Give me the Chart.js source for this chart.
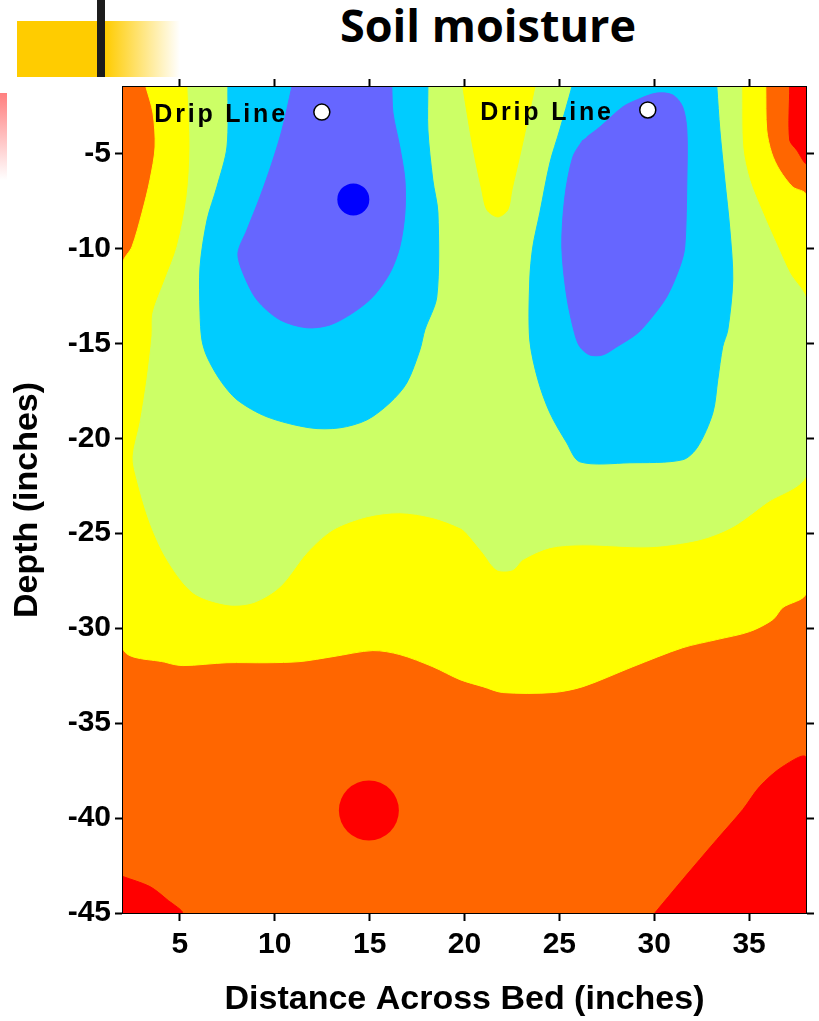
<!DOCTYPE html>
<html>
<head>
<meta charset="utf-8">
<title>Soil moisture</title>
<script src="https://cdn.jsdelivr.net/npm/chart.js@4.4.0/dist/chart.umd.min.js"></script>
<style>
  body { margin: 0; background: #fff; }
  #wrap { position: relative; width: 819px; height: 1021px; overflow: hidden; }
  #chartBox { position: absolute; left: 0; top: 0; width: 819px; height: 1021px; }
  .deco { position: absolute; }
  #title {
    position: absolute; left: 288px; top: 2px; width: 400px;
    text-align: center; font: 700 45px "Open Sans", sans-serif; line-height: 1;
  }
</style>
</head>
<body>
<div id="wrap">
  <div class="deco" style="left:17px;top:21px;width:163px;height:56px;background:linear-gradient(to right,#FFCC00 0,#FFCC00 88px,#ffffff 163px)"></div>
  <div class="deco" style="left:97px;top:0;width:8px;height:77px;background:#1c1c1c"></div>
  <div class="deco" style="left:0;top:93px;width:7px;height:87px;background:linear-gradient(to bottom,#FF7F7F,#ffffff)"></div>
  <div id="title">Soil moisture</div>
  <div id="chartBox"><canvas id="soilChart"></canvas></div>
</div>
<script>
// axis ranges (inches)
var xRange = [2, 38];
var yRange = [-45, -1.5];
var tickStep = 5;

// contour bands, outline points [distance, depth]
var orangeBase = [[2, -1.5], [38, -1.5], [38, -45], [2, -45]];

var yellowZone = [[3.21, -1.5], [3.58, -2.87], [3.69, -4.66], [3.42, -6.39], [3.0, -8.13], [2.47, -9.92],
  [2, -10.76], [2, -31.03], [4.32, -31.82], [5.16, -31.97], [7.48, -31.82], [9.59, -31.82], [11.33, -31.76],
  [13.06, -31.5], [15.17, -31.18], [16.59, -31.39], [18.33, -32.03], [19.76, -32.71], [20.97, -33.08],
  [22.02, -33.39], [24.66, -33.39], [26.24, -33.08], [28.87, -32.03], [31.5, -31.03], [33.3, -30.6],
  [35.03, -30.18], [36.25, -29.55], [36.77, -28.92], [38, -28.13], [38, -7.18], [37.3, -6.76],
  [36.61, -5.87], [36.19, -4.97], [35.93, -3.76], [35.88, -1.5]];

var greenZone = [[5.42, -1.5], [5.53, -4.66], [5.37, -7.29], [4.85, -9.92], [4.21, -11.66], [3.58, -13.39],
  [3.53, -14.6], [3.26, -16.92], [2.9, -19.18], [2.53, -20.97], [2.74, -22.18], [3.42, -24.45],
  [4.32, -26.39], [5.69, -28.13], [7.48, -28.76], [8.85, -28.66], [10.27, -27.82], [11.69, -26.03],
  [13.06, -24.82], [14.86, -24.13], [16.59, -23.92], [18.33, -24.18], [19.76, -24.71], [20.12, -25.0],
  [20.97, -26.03], [21.7, -26.92], [22.55, -26.92], [23.07, -26.39], [24.5, -25.76], [26.24, -25.61],
  [29.77, -25.71], [32.4, -25.34], [34.14, -24.66], [35.93, -23.39], [38, -21.92], [38, -12.71],
  [37.14, -11.29], [36.51, -9.92], [35.72, -8.13], [35.03, -6.39], [34.67, -4.66], [34.61, -1.5]];

var yellowTongue = [[19.91, -1.5], [20.44, -4.66], [20.91, -6.92], [21.18, -7.97], [21.76, -8.34],
  [22.28, -7.97], [22.5, -6.92], [23.02, -4.66], [23.71, -1.5]];

var cyanLeft = [[7.53, -1.5], [7.48, -4.66], [6.95, -6.76], [6.43, -8.5], [6.06, -10.97], [6.06, -13.39],
  [6.16, -14.82], [6.43, -15.71], [7.11, -16.92], [8.01, -17.97], [9.59, -18.87], [11.85, -19.45],
  [13.43, -19.45], [14.86, -19.03], [16.07, -18.13], [16.96, -17.08], [17.65, -15.34], [17.91, -14.29],
  [18.54, -12.55], [18.6, -8.13], [18.33, -6.39], [18.07, -3.76], [18.07, -1.5]];

var cyanRight = [[25.66, -1.5], [25.02, -3.76], [24.5, -5.5], [23.97, -8.13], [23.6, -9.92], [23.44, -11.66],
  [23.44, -14.82], [23.87, -16.92], [24.5, -18.66], [25.39, -20.24], [26.08, -21.24], [28.71, -21.29],
  [31.5, -21.13], [32.29, -20.45], [33.09, -18.66], [33.35, -16.92], [33.61, -15.18], [33.88, -14.29],
  [34.14, -11.66], [33.99, -9.03], [33.72, -6.39], [33.46, -3.76], [33.3, -1.5]];

var purpleLeft = [[10.9, -1.5], [10.38, -3.76], [9.85, -5.5], [9.22, -7.29], [8.53, -9.03], [8.06, -10.24],
  [8.32, -11.29], [9.06, -12.71], [10.27, -13.76], [11.69, -14.18], [12.91, -14.03], [14.12, -13.39],
  [15.17, -12.55], [16.07, -11.29], [16.59, -9.92], [16.86, -8.13], [16.86, -6.39], [16.59, -4.66],
  [16.23, -2.87], [16.17, -1.5]];

var purpleRight = [[26.45, -4.13], [27.13, -3.61], [28.34, -2.55], [29.08, -2.18], [30.13, -1.82],
  [30.98, -1.92], [31.5, -2.55], [31.72, -3.76], [31.72, -6.39], [31.61, -9.92], [31.35, -10.97],
  [30.66, -12.55], [29.77, -13.76], [29.08, -14.5], [28.03, -15.18], [27.29, -15.61], [26.6, -15.61],
  [26.08, -15.18], [25.81, -14.5], [25.39, -12.55], [25.13, -9.92], [25.29, -7.29], [25.71, -5.18],
  [26.24, -4.29]];

var redTopRight = [[37.14, -1.5], [37.14, -4.29], [37.51, -4.82], [38, -5.5], [38, -1.5]];
var redBottomLeft = [[2, -43.08], [3.42, -43.61], [4.32, -44.29], [5.11, -45], [2, -45]];
var redBottomRight = [[30.03, -45], [31.5, -43.24], [33.3, -41.13], [34.67, -39.55], [35.56, -38.34],
  [36.77, -37.29], [38, -36.82], [38, -45]];

// single spots and drip line emitters
var wetSpot = [14.14, -7.42];
var drySpot = [14.96, -39.6];
var dripLines = [[12.48, -2.82], [29.66, -2.71]];
var dripLabel = "Drip Line";

var toPoints = function (list) {
  return list.map(function (p) {
    return { x: p[0], y: p[1] };
  });
};

// bottom layer first
var layers = [
  { data: orangeBase, color: "#FF6600" },
  { data: yellowZone, color: "#FFFF00" },
  { data: greenZone, color: "#CCFF66" },
  { data: yellowTongue, color: "#FFFF00" },
  { data: cyanLeft, color: "#00CCFF" },
  { data: cyanRight, color: "#00CCFF" },
  { data: purpleLeft, color: "#6666FF" },
  { data: purpleRight, color: "#6666FF" },
  { data: redTopRight, color: "#FF0000" },
  { data: redBottomLeft, color: "#FF0000" },
  { data: redBottomRight, color: "#FF0000" },
];

var datasets = layers.map(function (l) {
  return {
    data: toPoints(l.data),
    showLine: true,
    fill: "shape",
    backgroundColor: l.color,
    borderColor: l.color,
    borderWidth: 1,
    pointRadius: 0,
    tension: 0.3,
  };
});

datasets.push({
  data: toPoints([wetSpot]),
  pointRadius: 16,
  backgroundColor: "#0000FF",
  borderColor: "#0000FF",
  borderWidth: 0,
});
datasets.push({
  data: toPoints([drySpot]),
  pointRadius: 30,
  backgroundColor: "#FF0000",
  borderColor: "#FF0000",
  borderWidth: 0,
});
datasets.push({
  data: toPoints(dripLines),
  pointRadius: 8,
  backgroundColor: "#FFFFFF",
  borderColor: "#000000",
  borderWidth: 1.5,
});

// later entries draw on top
datasets.forEach(function (d, i) {
  d.order = datasets.length - i;
});

var dripLabelPlugin = {
  id: "dripLabels",
  afterDatasetsDraw: function (chart) {
    var ctx = chart.ctx;
    var xs = chart.scales.x;
    var ys = chart.scales.y;
    ctx.save();
    ctx.font = "bold 25px 'Liberation Sans', Arial, sans-serif";
    ctx.letterSpacing = "2.8px";
    ctx.fillStyle = "#000";
    ctx.textAlign = "right";
    ctx.textBaseline = "middle";
    dripLines.forEach(function (p) {
      ctx.fillText(dripLabel, xs.getPixelForValue(p[0]) - 34, ys.getPixelForValue(p[1]) + 3);
    });
    ctx.restore();
  },
};

var tickFont = { family: "'Liberation Sans', Arial, sans-serif", size: 30, weight: "bold" };
var titleFont = { family: "'Liberation Sans', Arial, sans-serif", size: 34, weight: "bold" };
var gridOpts = { drawOnChartArea: false, color: "#000", tickLength: 8, tickWidth: 2 };
var borderOpts = { display: true, color: "#000", width: 2 };

var soilctx = document.getElementById("soilChart");
var soilChart = new Chart(soilctx, {
  type: "scatter",
  data: { datasets: datasets },
  options: {
    responsive: true,
    maintainAspectRatio: false,
    animation: false,
    events: [],
    layout: { padding: 0, autoPadding: false },
    plugins: {
      legend: { display: false },
      tooltip: { enabled: false },
    },
    scales: {
      x: {
        type: "linear",
        position: "bottom",
        min: xRange[0],
        max: xRange[1],
        ticks: { stepSize: tickStep, includeBounds: false, color: "#000", font: tickFont, padding: 6, maxRotation: 0 },
        grid: gridOpts,
        border: borderOpts,
        title: {
          display: true,
          text: "Distance Across Bed (inches)",
          color: "#000",
          font: titleFont,
          padding: { top: 0, bottom: 1 },
        },
        afterFit: function (s) {
          s.height = 108;
        },
      },
      x2: {
        type: "linear",
        position: "top",
        min: xRange[0],
        max: xRange[1],
        ticks: { stepSize: tickStep, includeBounds: false, display: false },
        grid: gridOpts,
        border: borderOpts,
        afterFit: function (s) {
          s.height = 87;
        },
      },
      y: {
        type: "linear",
        position: "left",
        min: yRange[0],
        max: yRange[1],
        ticks: { stepSize: tickStep, includeBounds: false, color: "#000", font: tickFont, padding: 4 },
        grid: gridOpts,
        border: borderOpts,
        title: {
          display: true,
          text: "Depth (inches)",
          color: "#000",
          font: titleFont,
          padding: { top: 7, bottom: 0 },
        },
        afterFit: function (s) {
          s.width = 123;
        },
      },
      y2: {
        type: "linear",
        position: "right",
        min: yRange[0],
        max: yRange[1],
        ticks: { stepSize: tickStep, includeBounds: false, display: false },
        grid: gridOpts,
        border: borderOpts,
        afterFit: function (s) {
          s.width = 13;
        },
      },
    },
  },
  plugins: [dripLabelPlugin],
});
</script>
</body>
</html>
